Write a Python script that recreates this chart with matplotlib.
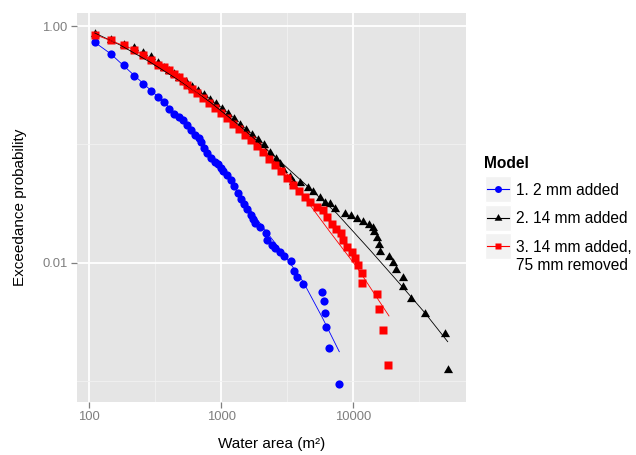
import matplotlib
matplotlib.use("Agg")
import matplotlib.pyplot as plt
from matplotlib.patches import Rectangle
from matplotlib.lines import Line2D
from matplotlib.ticker import FixedLocator, NullFormatter

plt.rcParams['font.family'] = ['Liberation Sans', 'DejaVu Sans']

# ---------------- data ----------------
blue_x = [110, 146, 183, 220, 256, 293, 329, 366, 403, 439, 476, 512, 549, 586, 635, 674, 702,
          740, 775, 836, 896, 949, 995, 1036, 1110, 1185, 1248, 1331, 1403, 1486, 1574, 1679,
          1748, 1800, 1965, 2181, 2231, 2409, 2551, 2784, 2985, 3390, 3573, 3726, 4180, 5763,
          5998, 6137, 6245, 6579, 7833]
blue_y = [0.728, 0.583, 0.471, 0.380, 0.321, 0.282, 0.251, 0.229, 0.199, 0.181, 0.169, 0.160,
          0.146, 0.131, 0.120, 0.113, 0.104, 0.0930, 0.0839, 0.0762, 0.0713, 0.0682, 0.0630,
          0.0595, 0.0550, 0.0499, 0.0444, 0.0390, 0.0347, 0.0313, 0.0282, 0.0253, 0.0234,
          0.0215, 0.0201, 0.0179, 0.0155, 0.0141, 0.0132, 0.0124, 0.0114, 0.01038, 0.00850,
          0.00756, 0.00662, 0.00567, 0.00473, 0.00378, 0.00284, 0.00189, 0.000945]

black_x = [110, 146, 183, 220, 256, 293, 329, 366, 403, 439, 476, 540, 600, 666, 740, 821, 912,
           1012, 1124, 1248, 1386, 1539, 1709, 1897, 2106, 2338, 2596, 2784, 2949, 3314, 3512,
           3948, 4561, 4978, 5594, 6105, 6660, 7270, 8650, 9557, 10722, 11909, 13150, 14030,
           14430, 15050, 15740, 15940, 18740, 19880, 21060, 23670, 23920, 27360, 34940, 49510,
           51910]
black_y = [0.861, 0.766, 0.695, 0.652, 0.591, 0.542, 0.487, 0.439, 0.419, 0.391, 0.361, 0.336,
           0.308, 0.282, 0.259, 0.237, 0.217, 0.197, 0.180, 0.164, 0.147, 0.133, 0.121, 0.1087,
           0.0977, 0.0844, 0.0751, 0.0682, 0.0606, 0.0529, 0.0483, 0.0468, 0.0425, 0.0397,
           0.0350, 0.0319, 0.0310, 0.0284, 0.0260, 0.0250, 0.0234, 0.0220, 0.0208, 0.0195,
           0.01825, 0.01605, 0.01409, 0.01236, 0.01112, 0.00989, 0.00865, 0.00742, 0.00618,
           0.00494, 0.00371, 0.00247, 0.001236]

red_x = [110, 146, 183, 220, 256, 293, 329, 366, 403, 439, 476, 512, 549, 600, 655, 727, 807,
         896, 995, 1105, 1226, 1362, 1512, 1679, 1864, 2070, 2298, 2551, 2833, 3145, 3493, 3878,
         4306, 4699, 5281, 5925, 6288, 6861, 7394, 8029, 8312, 9006, 9725, 10301, 10854, 11576,
         11576, 15200, 15740, 16880, 18420]
red_y = [0.844, 0.757, 0.687, 0.631, 0.569, 0.519, 0.471, 0.448, 0.422, 0.393, 0.368, 0.341,
         0.319, 0.2934, 0.2715, 0.2462, 0.2234, 0.2026, 0.1839, 0.1669, 0.1499, 0.1347, 0.1198,
         0.1077, 0.0967, 0.0861, 0.0751, 0.0668, 0.0595, 0.0519, 0.0453, 0.0403, 0.0358, 0.0327,
         0.0297, 0.0278, 0.0244, 0.0212, 0.0191, 0.0177, 0.0155, 0.0136, 0.0122, 0.01084,
         0.00949, 0.00813, 0.00678, 0.00542, 0.00407, 0.00271, 0.001355]

# fitted curves
blue_fit_x = [110, 145, 219, 366, 579, 896, 1427, 2034, 3039, 4180, 5794, 7833]
blue_fit_y = [0.728, 0.583, 0.382, 0.229, 0.1347, 0.0737, 0.0352, 0.0204, 0.01137, 0.00686,
              0.00347, 0.001765]
black_fit_x = [110, 171, 288, 487, 821, 1386, 2628, 4306, 7485, 13380, 22580, 34940, 51910]
black_fit_y = [0.873, 0.691, 0.496, 0.343, 0.228, 0.1428, 0.0762, 0.0462, 0.0261, 0.01278,
               0.00659, 0.00375, 0.002145]
red_fit_x = [110, 220, 343, 550, 896, 1386, 2144, 3314, 4699, 6660, 10612, 18640]
red_fit_y = [0.847, 0.631, 0.459, 0.317, 0.2026, 0.1347, 0.0861, 0.0529, 0.0307, 0.01815,
             0.00918, 0.00354]

series_labels = ["1. 2 mm added", "2. 14 mm added", "3. 14 mm added,\n75 mm removed"]
legend_title = "Model"
x_ticks = [100, 1000, 10000]
x_tick_labels = ["100", "1000", "10000"]
x_minor = [316.2, 3162, 31623]
y_ticks = [0.01, 1.0]
y_tick_labels = ["0.01", "1.00"]
y_minor = [0.001, 0.1]

# ---------------- figure ----------------
W, H = 636, 455
fig = plt.figure(figsize=(W / 100, H / 100), dpi=100)
L, R, T, B = 77, 466, 13, 402
ax = fig.add_axes([L / W, 1 - B / H, (R - L) / W, (B - T) / H])
ax.set_facecolor('#E5E5E5')
ax.set_xscale('log')
ax.set_yscale('log')
ax.set_xlim(80.7, 71430)
ax.set_ylim(0.000663, 1.288)
for s in ax.spines.values():
    s.set_visible(False)

ax.xaxis.set_major_locator(FixedLocator(x_ticks))
ax.set_xticklabels(x_tick_labels)
ax.xaxis.set_minor_locator(FixedLocator(x_minor))
ax.xaxis.set_minor_formatter(NullFormatter())
ax.yaxis.set_major_locator(FixedLocator(y_ticks))
ax.set_yticklabels(y_tick_labels)
ax.yaxis.set_minor_locator(FixedLocator(y_minor))
ax.yaxis.set_minor_formatter(NullFormatter())

ax.set_axisbelow(True)
ax.grid(which='major', color='white', lw=1.3)
ax.grid(which='minor', color='#F2F2F2', lw=0.6)
ax.tick_params(which='minor', length=0)
ax.tick_params(which='major', length=4.5, width=0.9, color='#7F7F7F',
               labelcolor='#7F7F7F', labelsize=9.4, pad=2.2)

tri = [(-1, -0.577), (1, -0.577), (0, 1.155)]
ms_c, ms_t, ms_s = 5.9, 7.6, 5.3

ax.plot(blue_x, blue_y, ls='none', marker='o', ms=ms_c, color='#0000FF', mec='none', zorder=3)
ax.plot(black_x, black_y, ls='none', marker=tri, ms=ms_t, color='black', mec='none', zorder=3)
ax.plot(red_x, red_y, ls='none', marker='s', ms=ms_s, color='#FF0000', mec='none', zorder=3)

ax.plot(blue_fit_x, blue_fit_y, color='#0000FF', lw=0.6, zorder=4)
ax.plot(black_fit_x, black_fit_y, color='black', lw=0.6, zorder=4)
ax.plot(red_fit_x, red_fit_y, color='#FF0000', lw=0.6, zorder=4)

ax.set_xlabel("Water area (m²)", fontsize=11, va='center')
ax.xaxis.set_label_coords(0.5, (B - 444) / (B - T))
ax.set_ylabel("Exceedance probability", fontsize=11, va='center', ha='center')
ax.yaxis.set_label_coords((20 - L) / (R - L), 0.5)

# ---------------- legend (built by hand, ggplot style) ----------------
def fx(px):
    return px / W

def fy(py):
    return 1 - py / H

fig.text(fx(484), fy(163.5), legend_title, fontsize=11.2, fontweight='bold',
         va='center', ha='left')
key_tops = [176, 204.5, 232.5]
key_size = 26
colors = ['#0000FF', 'black', '#FF0000']
markers = ['o', tri, 's']
msizes = [ms_c * 0.85, ms_t * 0.85, ms_s * 0.85]
label_y = [190, 218, 256]
for i in range(3):
    top = key_tops[i]
    fig.patches.append(Rectangle((fx(485), fy(top + key_size)), key_size / W, key_size / H,
                                 transform=fig.transFigure, facecolor='#F2F2F2',
                                 edgecolor='white', lw=1.0, figure=fig))
    cy = fy(top + key_size / 2)
    fig.lines.append(Line2D([fx(487), fx(509)], [cy, cy], transform=fig.transFigure,
                            color=colors[i], lw=0.8, figure=fig))
    fig.lines.append(Line2D([fx(498)], [cy], transform=fig.transFigure, ls='none',
                            marker=markers[i], ms=msizes[i], color=colors[i], mec='none',
                            figure=fig))
    fig.text(fx(516), fy(label_y[i]), series_labels[i], fontsize=11.2, va='center',
             ha='left', linespacing=1.25)

fig.savefig('out.png', dpi=100, facecolor='white')
